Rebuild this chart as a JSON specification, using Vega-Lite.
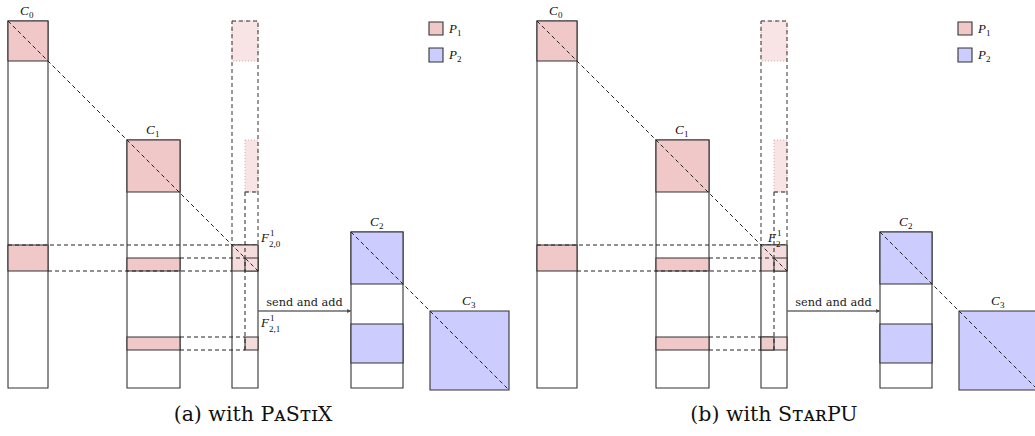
{
  "$schema": "https://vega.github.io/schema/vega-lite/v6.json",
  "width": 1035,
  "height": 436,
  "padding": 0,
  "autosize": {"type": "fit", "contains": "padding"},
  "config": {"view": {"stroke": null}},
  "datasets": {
    "faint": [
      {"x": 232, "x2": 258, "y": 21, "y2": 61},
      {"x": 245, "x2": 258, "y": 140, "y2": 192},
      {"x": 761, "x2": 787, "y": 21, "y2": 61},
      {"x": 774, "x2": 787, "y": 140, "y2": 192}
    ],
    "dashbox": [
      {"x": 232, "x2": 258, "y": 21, "y2": 245},
      {"x": 761, "x2": 787, "y": 21, "y2": 245}
    ],
    "blocks": [
      {"x": 8, "x2": 48, "y": 21, "y2": 388, "kind": "white"},
      {"x": 127, "x2": 180, "y": 140, "y2": 388, "kind": "white"},
      {"x": 232, "x2": 258, "y": 245, "y2": 388, "kind": "white"},
      {"x": 351, "x2": 403, "y": 232, "y2": 388, "kind": "white"},
      {"x": 8, "x2": 48, "y": 21, "y2": 61, "kind": "P1"},
      {"x": 8, "x2": 48, "y": 245, "y2": 271, "kind": "P1"},
      {"x": 127, "x2": 180, "y": 140, "y2": 192, "kind": "P1"},
      {"x": 127, "x2": 180, "y": 258, "y2": 271, "kind": "P1"},
      {"x": 127, "x2": 180, "y": 337, "y2": 350, "kind": "P1"},
      {"x": 232, "x2": 258, "y": 245, "y2": 271, "kind": "P1light"},
      {"x": 245, "x2": 258, "y": 258, "y2": 271, "kind": "P1light"},
      {"x": 245, "x2": 258, "y": 337, "y2": 350, "kind": "P1light"},
      {"x": 351, "x2": 403, "y": 232, "y2": 284, "kind": "P2"},
      {"x": 351, "x2": 403, "y": 324, "y2": 363, "kind": "P2"},
      {"x": 430, "x2": 509, "y": 311, "y2": 390, "kind": "P2"},
      {"x": 429, "x2": 443, "y": 22, "y2": 35, "kind": "P1"},
      {"x": 429, "x2": 443, "y": 48, "y2": 62, "kind": "P2"},
      {"x": 537, "x2": 577, "y": 21, "y2": 388, "kind": "white"},
      {"x": 656, "x2": 709, "y": 140, "y2": 388, "kind": "white"},
      {"x": 761, "x2": 787, "y": 245, "y2": 388, "kind": "white"},
      {"x": 880, "x2": 932, "y": 232, "y2": 388, "kind": "white"},
      {"x": 537, "x2": 577, "y": 21, "y2": 61, "kind": "P1"},
      {"x": 537, "x2": 577, "y": 245, "y2": 271, "kind": "P1"},
      {"x": 656, "x2": 709, "y": 140, "y2": 192, "kind": "P1"},
      {"x": 656, "x2": 709, "y": 258, "y2": 271, "kind": "P1"},
      {"x": 656, "x2": 709, "y": 337, "y2": 350, "kind": "P1"},
      {"x": 761, "x2": 787, "y": 245, "y2": 271, "kind": "P1light"},
      {"x": 774, "x2": 787, "y": 258, "y2": 271, "kind": "P1light"},
      {"x": 761, "x2": 787, "y": 337, "y2": 350, "kind": "P1light"},
      {"x": 761, "x2": 774, "y": 337, "y2": 350, "kind": "P1mid"},
      {"x": 880, "x2": 932, "y": 232, "y2": 284, "kind": "P2"},
      {"x": 880, "x2": 932, "y": 324, "y2": 363, "kind": "P2"},
      {"x": 959, "x2": 1038, "y": 311, "y2": 390, "kind": "P2"},
      {"x": 958, "x2": 972, "y": 22, "y2": 35, "kind": "P1"},
      {"x": 958, "x2": 972, "y": 48, "y2": 62, "kind": "P2"}
    ],
    "dashlines": [
      {"x": 8, "x2": 258, "y": 21, "y2": 271},
      {"x": 351, "x2": 509, "y": 232, "y2": 390},
      {"x": 8, "x2": 232, "y": 245, "y2": 245},
      {"x": 48, "x2": 232, "y": 271, "y2": 271},
      {"x": 180, "x2": 245, "y": 258, "y2": 258},
      {"x": 180, "x2": 245, "y": 337, "y2": 337},
      {"x": 180, "x2": 245, "y": 350, "y2": 350},
      {"x": 245, "x2": 245, "y": 192, "y2": 350},
      {"x": 245, "x2": 258, "y": 192, "y2": 192},
      {"x": 537, "x2": 787, "y": 21, "y2": 271},
      {"x": 880, "x2": 1038, "y": 232, "y2": 390},
      {"x": 537, "x2": 761, "y": 245, "y2": 245},
      {"x": 577, "x2": 761, "y": 271, "y2": 271},
      {"x": 709, "x2": 774, "y": 258, "y2": 258},
      {"x": 709, "x2": 761, "y": 337, "y2": 337},
      {"x": 709, "x2": 761, "y": 350, "y2": 350},
      {"x": 774, "x2": 774, "y": 192, "y2": 350},
      {"x": 774, "x2": 787, "y": 192, "y2": 192}
    ],
    "arrows": [
      {"x": 258, "x2": 351, "y": 311},
      {"x": 787, "x2": 880, "y": 311}
    ],
    "heads": [
      {"x": 349, "y": 311},
      {"x": 878, "y": 311}
    ],
    "italic": [
      {"x": 20, "y": 15, "t": "C"},
      {"x": 146, "y": 134, "t": "C"},
      {"x": 370, "y": 226, "t": "C"},
      {"x": 462, "y": 305, "t": "C"},
      {"x": 261, "y": 242, "t": "F"},
      {"x": 261, "y": 327, "t": "F"},
      {"x": 449, "y": 33, "t": "P"},
      {"x": 449, "y": 59, "t": "P"},
      {"x": 549, "y": 15, "t": "C"},
      {"x": 675, "y": 134, "t": "C"},
      {"x": 899, "y": 226, "t": "C"},
      {"x": 991, "y": 305, "t": "C"},
      {"x": 768, "y": 242, "t": "F"},
      {"x": 978, "y": 33, "t": "P"},
      {"x": 978, "y": 59, "t": "P"}
    ],
    "scripts": [
      {"x": 29, "y": 18, "t": "0"},
      {"x": 155, "y": 137, "t": "1"},
      {"x": 379, "y": 229, "t": "2"},
      {"x": 471, "y": 308, "t": "3"},
      {"x": 270, "y": 236, "t": "1"},
      {"x": 269, "y": 247, "t": "2,0"},
      {"x": 270, "y": 321, "t": "1"},
      {"x": 269, "y": 332, "t": "2,1"},
      {"x": 457, "y": 36, "t": "1"},
      {"x": 457, "y": 62, "t": "2"},
      {"x": 558, "y": 18, "t": "0"},
      {"x": 684, "y": 137, "t": "1"},
      {"x": 908, "y": 229, "t": "2"},
      {"x": 1000, "y": 308, "t": "3"},
      {"x": 777, "y": 236, "t": "1"},
      {"x": 776, "y": 247, "t": "2"},
      {"x": 986, "y": 36, "t": "1"},
      {"x": 986, "y": 62, "t": "2"}
    ],
    "plain": [
      {"x": 304.5, "y": 306, "t": "send and add"},
      {"x": 833.5, "y": 306, "t": "send and add"}
    ],
    "captions": [
      {"x": 253, "y": 421, "t": "(a) with PᴀSᴛɪX"},
      {"x": 774, "y": 421, "t": "(b) with SᴛᴀʀPU"}
    ]
  },
  "layer": [
    {
      "data": {"name": "faint"},
      "mark": {"type": "rect", "fill": "#f8e4e4", "stroke": "#dca8a8", "strokeDash": [1, 2], "strokeWidth": 1},
      "encoding": {
        "x": {"field": "x", "type": "quantitative", "scale": {"domain": [0, 1035], "nice": false, "zero": false}, "axis": null},
        "x2": {"field": "x2"},
        "y": {"field": "y", "type": "quantitative", "scale": {"domain": [0, 436], "nice": false, "zero": false, "reverse": true}, "axis": null},
        "y2": {"field": "y2"}
      }
    },
    {
      "data": {"name": "dashbox"},
      "mark": {"type": "rect", "fill": null, "fillOpacity": 0, "stroke": "#333333", "strokeDash": [4, 3], "strokeWidth": 1},
      "encoding": {
        "x": {"field": "x", "type": "quantitative", "axis": null},
        "x2": {"field": "x2"},
        "y": {"field": "y", "type": "quantitative", "axis": null},
        "y2": {"field": "y2"}
      }
    },
    {
      "data": {"name": "blocks"},
      "mark": {"type": "rect", "stroke": "#333333", "strokeWidth": 1.1, "clip": true},
      "encoding": {
        "x": {"field": "x", "type": "quantitative", "axis": null},
        "x2": {"field": "x2"},
        "y": {"field": "y", "type": "quantitative", "axis": null},
        "y2": {"field": "y2"},
        "fill": {"field": "kind", "type": "nominal", "legend": null,
          "scale": {"domain": ["white", "P1", "P1light", "P1mid", "P2"], "range": ["#ffffff", "#f0c8c8", "#f5dcdc", "#efcccc", "#ccccff"]}}
      }
    },
    {
      "data": {"name": "dashlines"},
      "mark": {"type": "rule", "stroke": "#222222", "strokeDash": [4, 3], "strokeWidth": 1, "clip": true},
      "encoding": {
        "x": {"field": "x", "type": "quantitative", "axis": null},
        "x2": {"field": "x2"},
        "y": {"field": "y", "type": "quantitative", "axis": null},
        "y2": {"field": "y2"}
      }
    },
    {
      "data": {"name": "arrows"},
      "mark": {"type": "rule", "stroke": "#6a6a6a", "strokeWidth": 1.6},
      "encoding": {
        "x": {"field": "x", "type": "quantitative", "axis": null},
        "x2": {"field": "x2"},
        "y": {"field": "y", "type": "quantitative", "axis": null}
      }
    },
    {
      "data": {"name": "heads"},
      "mark": {"type": "point", "shape": "triangle-right", "filled": true, "fill": "#444444", "size": 18, "opacity": 1},
      "encoding": {
        "x": {"field": "x", "type": "quantitative", "axis": null},
        "y": {"field": "y", "type": "quantitative", "axis": null}
      }
    },
    {
      "data": {"name": "italic"},
      "mark": {"type": "text", "font": "Liberation Serif, DejaVu Serif, serif", "fontStyle": "italic", "fontSize": 13, "align": "left", "baseline": "alphabetic", "fill": "#111111"},
      "encoding": {
        "x": {"field": "x", "type": "quantitative", "axis": null},
        "y": {"field": "y", "type": "quantitative", "axis": null},
        "text": {"field": "t"}
      }
    },
    {
      "data": {"name": "scripts"},
      "mark": {"type": "text", "font": "Liberation Serif, DejaVu Serif, serif", "fontSize": 9, "align": "left", "baseline": "alphabetic", "fill": "#111111"},
      "encoding": {
        "x": {"field": "x", "type": "quantitative", "axis": null},
        "y": {"field": "y", "type": "quantitative", "axis": null},
        "text": {"field": "t"}
      }
    },
    {
      "data": {"name": "plain"},
      "mark": {"type": "text", "font": "DejaVu Serif, serif", "fontSize": 11.3, "align": "center", "baseline": "alphabetic", "fill": "#222222"},
      "encoding": {
        "x": {"field": "x", "type": "quantitative", "axis": null},
        "y": {"field": "y", "type": "quantitative", "axis": null},
        "text": {"field": "t"}
      }
    },
    {
      "data": {"name": "captions"},
      "mark": {"type": "text", "font": "DejaVu Serif, serif", "fontSize": 20.5, "align": "center", "baseline": "alphabetic", "fill": "#111111"},
      "encoding": {
        "x": {"field": "x", "type": "quantitative", "axis": null},
        "y": {"field": "y", "type": "quantitative", "axis": null},
        "text": {"field": "t"}
      }
    }
  ]
}
